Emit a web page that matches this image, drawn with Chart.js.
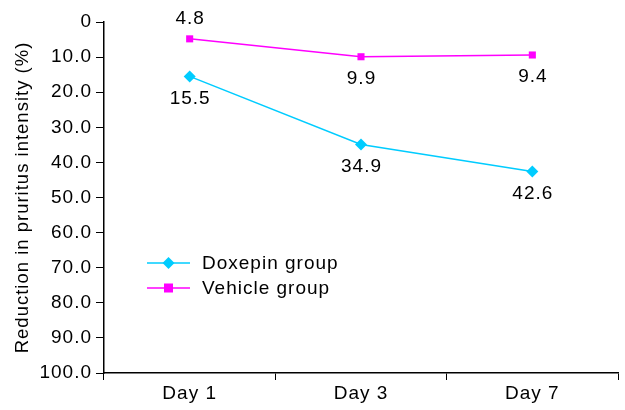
<!DOCTYPE html>
<html><head><meta charset="utf-8">
<script src="https://cdn.jsdelivr.net/npm/chart.js@4/dist/chart.umd.min.js"></script>
<style>html,body{margin:0;padding:0;background:#fff}#wrap{width:625px;height:410px}</style>
</head><body><div id="wrap"><canvas id="c" width="625" height="410"></canvas></div>
<script>
const categories = ['Day 1', 'Day 3', 'Day 7'];
const doxepin = [15.5, 34.9, 42.6];
const vehicle = [4.8, 9.9, 9.4];
const seriesNames = ['Doxepin group', 'Vehicle group'];
const yTicks = [0, 10, 20, 30, 40, 50, 60, 70, 80, 90, 100];
const yTickLabels = ['0', '10.0', '20.0', '30.0', '40.0', '50.0', '60.0', '70.0', '80.0', '90.0', '100.0'];
const vehicleLabelAbove = [true, false, false];

const FONT = "'Liberation Sans', Arial, sans-serif";
const CYAN = '#00CCFF', MAG = '#FF00FF';

const spacingPlugin = {
  id: 'spacing',
  beforeDraw(chart) { chart.ctx.letterSpacing = '1px'; }
};

const labelPlugin = {
  id: 'labels',
  afterDatasetsDraw(chart) {
    const ctx = chart.ctx;
    ctx.save();
    ctx.letterSpacing = '1px';
    ctx.font = '19px ' + FONT;
    ctx.fillStyle = '#000';
    ctx.textAlign = 'center';
    ctx.textBaseline = 'middle';
    chart.data.datasets.forEach((ds, di) => {
      const meta = chart.getDatasetMeta(di);
      meta.data.forEach((pt, i) => {
        const v = ds.data[i];
        let above = di === 1 && vehicleLabelAbove[i];
        const y = above ? pt.y - 20 : pt.y + 22;
        ctx.fillText(v.toFixed(1), pt.x + 0.5, y);
      });
    });
    ctx.restore();
  }
};

const legendPlugin = {
  id: 'customLegend',
  afterDraw(chart) {
    const ctx = chart.ctx;
    ctx.save();
    ctx.letterSpacing = '1px';
    const x0 = 147, x1 = 190, tx = 202;
    const ys = [263, 288];
    chart.data.datasets.forEach((ds, di) => {
      const y = ys[di];
      ctx.strokeStyle = ds.borderColor;
      ctx.lineWidth = 1.5;
      ctx.beginPath(); ctx.moveTo(x0, y); ctx.lineTo(x1, y); ctx.stroke();
      ctx.fillStyle = ds.borderColor;
      const cx = (x0 + x1) / 2;
      if (ds.pointStyle === 'rectRot') {
        const r = 6;
        ctx.beginPath(); ctx.moveTo(cx, y - r); ctx.lineTo(cx + r, y); ctx.lineTo(cx, y + r); ctx.lineTo(cx - r, y); ctx.closePath(); ctx.fill();
      } else {
        ctx.fillRect(cx - 4.5, y - 4.5, 9, 9);
      }
      ctx.fillStyle = '#000';
      ctx.font = '19px ' + FONT;
      ctx.textAlign = 'left';
      ctx.textBaseline = 'middle';
      ctx.fillText(ds.label, tx, y + 1);
    });
    ctx.restore();
  }
};

new Chart(document.getElementById('c'), {
  type: 'line',
  data: {
    labels: categories,
    datasets: [
      { label: seriesNames[0], data: doxepin, borderColor: CYAN, backgroundColor: CYAN, borderWidth: 1.5,
        pointStyle: 'rectRot', pointRadius: 6, pointHoverRadius: 6, pointBorderWidth: 0 },
      { label: seriesNames[1], data: vehicle, borderColor: MAG, backgroundColor: MAG, borderWidth: 1.5,
        pointStyle: 'rect', pointRadius: 5, pointHoverRadius: 5, pointBorderWidth: 0 }
    ]
  },
  options: {
    responsive: false,
    animation: false,
    events: [],
    layout: { padding: { top: 22, right: 7, left: 0, bottom: 0 } },
    plugins: { legend: { display: false }, tooltip: { enabled: false } },
    scales: {
      x: {
        offset: true,
        grid: { offset: true, drawOnChartArea: false, tickLength: 7, color: '#000', lineWidth: 1 },
        border: { display: true, color: '#000', width: 1.5 },
        ticks: { color: '#000', font: { size: 19, family: FONT }, padding: 2 },
        afterFit(s) { s.height = 37; }
      },
      y: {
        reverse: true, min: 0, max: 100,
        afterBuildTicks(s) { s.ticks = yTicks.map(v => ({ value: v })); },
        grid: { drawOnChartArea: false, tickLength: 8, color: '#000', lineWidth: 1 },
        border: { display: true, color: '#000', width: 1.5 },
        ticks: { color: '#000', font: { size: 19, family: FONT }, padding: 4,
          callback(v) { const i = yTicks.indexOf(v); return i >= 0 ? yTickLabels[i] : ''; } },
        title: { display: true, text: 'Reduction in pruritus intensity (%)', color: '#000',
          font: { size: 18.5, family: FONT }, padding: { top: 12, bottom: 0 } },
        afterFit(s) { s.width = 104; }
      }
    }
  },
  plugins: [spacingPlugin, labelPlugin, legendPlugin]
});
</script>
</body></html>
